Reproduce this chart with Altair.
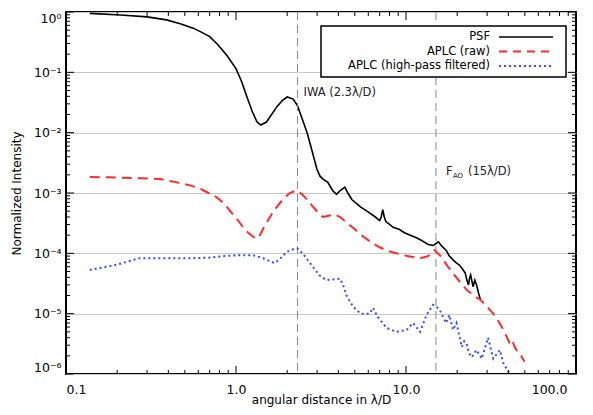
import altair as alt
import pandas as pd

# ---- data ----
psf_x = [0.138, 0.21, 0.3, 0.39, 0.47, 0.56, 0.63, 0.70, 0.78, 0.885, 1.0, 1.08, 1.16, 1.25, 1.33,
         1.40, 1.51, 1.62, 1.74, 1.87, 2.0, 2.17, 2.3, 2.45, 2.62, 2.8, 2.99, 3.12, 3.25, 3.47, 3.7,
         3.9, 4.1, 4.37, 4.55, 4.8, 5.4, 6.1, 6.6, 7.0, 7.15, 7.3, 7.45, 7.6, 8.4, 9.1, 9.8, 10.6,
         11.6, 12.5, 13.5, 14.5, 15.5, 16.3, 17.2, 18.0, 18.9, 19.7, 20.6, 21.5, 22.3, 22.8, 23.3,
         23.7, 24.0, 24.4, 24.8, 25.4, 26.0, 26.7, 27.4]
psf_y = [0.95, 0.89, 0.83, 0.74, 0.64, 0.54, 0.46, 0.39, 0.29, 0.19, 0.115, 0.07, 0.039, 0.022, 0.015,
         0.0134, 0.015, 0.02, 0.027, 0.034, 0.039, 0.036, 0.028, 0.017, 0.01, 0.005, 0.0025, 0.0019,
         0.0017, 0.0015, 0.0011, 0.00095, 0.0011, 0.00125, 0.001, 0.00078, 0.00059, 0.00047, 0.0004,
         0.00035, 0.0004, 0.00053, 0.0004, 0.00034, 0.00027, 0.00025, 0.00022, 0.0002, 0.00018,
         0.00016, 0.00014, 0.000135, 0.000155, 0.00013, 0.000113, 0.00009, 0.000078, 0.00007,
         0.000064, 0.000055, 0.000047, 0.000036, 0.00003, 0.00004, 0.000044, 0.000035, 0.000028,
         0.000036, 0.00003, 0.000022, 0.000017]

raw_x = [0.138, 0.2, 0.28, 0.357, 0.45, 0.53, 0.61, 0.69, 0.77, 0.86, 0.96, 1.03, 1.1, 1.18, 1.26,
         1.32, 1.37, 1.44, 1.54, 1.64, 1.74, 1.9, 2.07, 2.27, 2.45, 2.65, 2.84, 3.05, 3.25, 3.5, 3.8,
         4.1, 4.5, 5.0, 5.6, 6.3, 7.0, 7.8, 8.8, 10.2, 12.1, 13.5, 14.7, 16.2, 17.5, 18.9, 20.7, 22.7,
         25.0, 27.4, 30.0, 32.6, 35.0, 37.4, 39.0, 40.8, 42.2, 43.6, 45.0, 47.5, 49.8]
raw_y = [0.00185, 0.0018, 0.00175, 0.0017, 0.0015, 0.00135, 0.0012, 0.001, 0.00085, 0.00065, 0.00044,
         0.00035, 0.00027, 0.00022, 0.00019, 0.000175, 0.00019, 0.00025, 0.00035, 0.00047, 0.00059,
         0.0008, 0.001, 0.0011, 0.00095, 0.00075, 0.00059, 0.00047, 0.0004, 0.00042, 0.00044, 0.0004,
         0.00032, 0.00025, 0.00019, 0.00015, 0.000126, 0.00011, 0.0001, 0.00009, 0.000083, 0.00009,
         0.000113, 0.000087, 0.000062, 0.000047, 0.000034, 0.000025, 0.00002, 0.000017, 0.000013,
         0.00001, 7.5e-6, 5.4e-6, 4.2e-6, 3.2e-6, 3.6e-6, 2.8e-6, 2.4e-6, 2.0e-6, 1.6e-6]

hp_x = [0.138, 0.2, 0.27, 0.4, 0.55, 0.7, 0.85, 1.0, 1.26, 1.44, 1.69, 1.85, 1.98, 2.22, 2.3, 2.5,
        2.84, 3.1, 3.4, 3.7, 4.1, 4.3, 4.5, 4.9, 5.4, 6.1, 6.4, 6.8, 7.7, 8.8, 10.1, 11.0, 12.1, 13.2,
        14.4, 15.1, 15.8, 17.2, 18.0, 18.9, 19.8, 21.3, 22.0, 22.7, 23.5, 24.4, 26.0, 27.9, 30.4, 32.6,
        35.7, 37.4, 40.8, 43.0, 45.0]
hp_y = [5.3e-5, 6.5e-5, 8.3e-5, 8.3e-5, 8.3e-5, 8.5e-5, 9e-5, 9.3e-5, 9.3e-5, 8.3e-5, 6.9e-5, 8.5e-5,
        1.05e-4, 1.2e-4, 1.2e-4, 9.5e-5, 5.9e-5, 4.3e-5, 3.6e-5, 3.7e-5, 3.8e-5, 2.8e-5, 1.9e-5,
        1.3e-5, 1.0e-5, 1.0e-5, 1.25e-5, 8.9e-6, 5.8e-6, 5.0e-6, 5.4e-6, 7e-6, 5e-6, 9.5e-6, 1.4e-5,
        1.3e-5, 1.15e-5, 7e-6, 9.5e-6, 5.4e-6, 7e-6, 2.8e-6, 3.5e-6, 3.2e-6, 2.2e-6, 1.9e-6, 2.5e-6,
        1.8e-6, 4e-6, 1.8e-6, 2.5e-6, 1.5e-6, 1.0e-6, 8e-7, 8e-7]

series_names = ["PSF", "APLC (raw)", "APLC (high-pass filtered)"]
series_colors = ["#000000", "#ff2a2a", "#2f4dff"]
marker_x = [2.3, 15.0]

x_major = [0.1, 1.0, 10.0, 100.0]
y_major = [1e-6, 1e-5, 1e-4, 1e-3, 1e-2, 1e-1, 1.0]
x_minor = [m * 10.0 ** e for e in (-1, 0, 1) for m in range(2, 10)]
y_minor = [m * 10.0 ** e for e in range(-6, 0) for m in range(2, 10)]

W, H = 510, 362
FONT = "DejaVu Sans"

xs = alt.Scale(type="log", domain=[0.1, 100], nice=False)
ys = alt.Scale(type="log", domain=[1e-6, 1], nice=False)

x_axis = alt.Axis(
    values=x_major, format=".1f", ticks=False, domain=False, grid=False,
    title="angular distance in λ/D", labelPadding=9, titlePadding=-1,
    labelOffset={"condition": {"test": "datum.value >= 100", "value": -9}, "value": 0},
    labelFontSize=12.5, titleFontSize=12)
y_axis = alt.Axis(
    values=y_major, ticks=False, domain=False, grid=True,
    gridColor="#c8c8c8", gridWidth=1, labelFlush=True,
    labelExpr="'10' + ['⁰','⁻¹','⁻²','⁻³','⁻⁴','⁻⁵','⁻⁶'][-round(log(datum.value)/LN10)]",
    title="Normalized Intensity", labelPadding=5, titlePadding=10,
    labelFontSize=12.5, titleFontSize=12)

def X(field):
    return alt.X(field, scale=xs, axis=x_axis)

def Y(field):
    return alt.Y(field, scale=ys, axis=y_axis)

def line_layer(xv, yv, color, dash, width):
    df = pd.DataFrame({"x": xv, "y": yv})
    props = dict(color=color, strokeWidth=width, clip=True)
    if dash:
        props["strokeDash"] = dash
    return alt.Chart(df).mark_line(**props).encode(x=X("x:Q"), y=Y("y:Q"))

psf = line_layer(psf_x, psf_y, series_colors[0], None, 1.6)
raw = line_layer(raw_x, raw_y, series_colors[1], [10, 6], 2)
hp = line_layer(hp_x, hp_y, series_colors[2], [2, 3], 2)

vlines = alt.Chart(pd.DataFrame({"x": marker_x})).mark_rule(
    color="#888888", strokeWidth=1, strokeDash=[8, 5]
).encode(x=X("x:Q"))

def ticks_y(vals, length):
    df = pd.DataFrame({"y": vals})
    left = alt.Chart(df).mark_rule(color="black", strokeWidth=1).encode(
        y=Y("y:Q"), x=alt.value(0), x2=alt.value(length))
    right = alt.Chart(df).mark_rule(color="black", strokeWidth=1).encode(
        y=Y("y:Q"), x=alt.value(W), x2=alt.value(W - length))
    return [left, right]

def ticks_x(vals, length):
    df = pd.DataFrame({"x": vals})
    bottom = alt.Chart(df).mark_rule(color="black", strokeWidth=1).encode(
        x=X("x:Q"), y=alt.value(H), y2=alt.value(H - length))
    top = alt.Chart(df).mark_rule(color="black", strokeWidth=1).encode(
        x=X("x:Q"), y=alt.value(0), y2=alt.value(length))
    return [bottom, top]

tick_layers = ticks_y(y_minor, 4) + ticks_y(y_major, 8) + ticks_x(x_minor, 4) + ticks_x(x_major, 8)

# annotations
ann_df = pd.DataFrame({"x": [marker_x[0]]})
iwa = alt.Chart(ann_df).mark_text(
    text="IWA (2.3λ/D)", align="left", baseline="middle", dx=6, font=FONT, fontSize=11.5, color="#222222"
).encode(x=X("x:Q"), y=alt.value(81))

fao_df = pd.DataFrame({"x": [marker_x[1]]})
fao_f = alt.Chart(fao_df).mark_text(
    text="F", align="left", baseline="middle", dx=10, font=FONT, fontSize=11.5, color="#222222"
).encode(x=X("x:Q"), y=alt.value(160))
fao_sub = alt.Chart(fao_df).mark_text(
    text="AO", align="left", baseline="middle", dx=17, font=FONT, fontSize=7, color="#222222"
).encode(x=X("x:Q"), y=alt.value(164))
fao_rest = alt.Chart(fao_df).mark_text(
    text="(15λ/D)", align="left", baseline="middle", dx=32, font=FONT, fontSize=11.5, color="#222222"
).encode(x=X("x:Q"), y=alt.value(160))

# legend (box, labels, samples)
dummy = pd.DataFrame({"a": [0]})
leg_box = alt.Chart(dummy).mark_rect(fill="white", stroke="black", strokeWidth=1.5).encode(
    x=alt.value(255), x2=alt.value(500), y=alt.value(14), y2=alt.value(65))
leg_layers = [leg_box]
row_y = [25, 39.5, 54]
dashes = [None, [8, 6], [2, 3]]
for name, col, dsh, ry in zip(series_names, series_colors, dashes, row_y):
    leg_layers.append(alt.Chart(dummy).mark_text(
        text=name, align="right", baseline="middle", font=FONT, fontSize=11.5, color="black"
    ).encode(x=alt.value(424), y=alt.value(ry)))
    rp = dict(color=col, strokeWidth=2 if dsh else 1.6)
    if dsh:
        rp["strokeDash"] = dsh
    leg_layers.append(alt.Chart(dummy).mark_rule(**rp).encode(
        x=alt.value(433), x2=alt.value(487), y=alt.value(ry)))

chart = alt.layer(
    psf, vlines, raw, hp, *tick_layers, iwa, fao_f, fao_sub, fao_rest, *leg_layers
).properties(
    width=W, height=H,
    autosize=alt.AutoSizeParams(type="none"),
    padding={"left": 58, "top": 4, "right": 9, "bottom": 33},
).configure_view(
    stroke="black", strokeWidth=2
).configure_axis(
    labelFont=FONT, titleFont=FONT, labelColor="black", titleColor="black", titleFontWeight="normal"
).configure_text(font=FONT)

chart.save("out.html", embed_options={"renderer": "svg", "actions": False})
